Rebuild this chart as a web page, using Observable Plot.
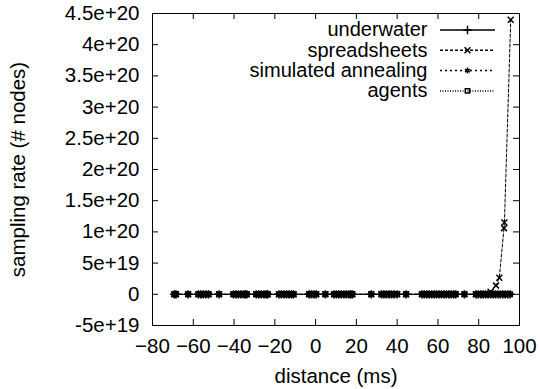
<!DOCTYPE html>
<html><head><meta charset="utf-8">
<script src="https://cdn.jsdelivr.net/npm/d3@7"></script>
<script src="https://cdn.jsdelivr.net/npm/@observablehq/plot@0.6"></script>
<style>body{margin:0;background:#fff}</style>
</head><body><div id="chart"></div>
<script>
const xTicks = [-80, -60, -40, -20, 0, 20, 40, 60, 80, 100];
const yTicks = [-5e19, 0, 5e19, 1e20, 1.5e20, 2e20, 2.5e20, 3e20, 3.5e20, 4e20, 4.5e20];
const yTickLabels = ["-5e+19", "0", "5e+19", "1e+20", "1.5e+20", "2e+20", "2.5e+20", "3e+20", "3.5e+20", "4e+20", "4.5e+20"];
const seriesNames = ["underwater", "spreadsheets", "simulated annealing", "agents"];

// sample positions (ms) for the flat series
const sampleX = [-69.3, -68.5, -62.5, -57.5, -56.3, -55.1, -53.8, -52.5, -47.3,
  -40.3, -39.1, -37.9, -36.6, -35.3, -34.5, -33.8,
  -29.1, -27.9, -26.7, -25.3, -24.2, -23.5,
  -18, -16.8, -15.6, -14.3, -13, -11.8, -10.8,
  -3.2, -2, -0.8, 0.3, 4.8,
  9, 10.2, 11.4, 12.6, 13.9, 15.1, 16.4, 17.2, 18, 27.3,
  32.3, 33.5, 34.7, 36, 37.2, 38.5, 40, 44.4,
  52.1, 53.3, 54.5, 55.7, 56.9, 58.1, 59.3, 60.5, 61.7, 62.9, 64.1, 65.3, 66.5, 67.7, 68.7, 73,
  78.6, 79.8, 81, 82.2, 83.4, 84.6, 85.8, 87, 88.2, 89.4, 90.6, 91.8, 93, 94.2, 95.4];
const underwaterY = [0,0,0,0,0,0,0,0,0, 0,0,0,0,0,0,0, 0,0,0,0,0,0, 0,0,0,0,0,0,0, 0,0,0,0,0,
  0,0,0,0,0,0,0,0,0,0, 0,0,0,0,0,0,0,0, 0,0,0,0,0,0,0,0,0,0,0,0,0,0,0,0,
  0,0,0,0,0,0,0,0,0,0,0,0,0,0,0];
const annealingY = [0,0,0,0,0,0,0,0,0, 0,0,0,0,0,0,0, 0,0,0,0,0,0, 0,0,0,0,0,0,0, 0,0,0,0,0,
  0,0,0,0,0,0,0,0,0,0, 0,0,0,0,0,0,0,0, 0,0,0,0,0,0,0,0,0,0,0,0,0,0,0,0,
  0,0,0,0,0,0,0,0,0,0,0,0,0,0,0];
const agentsY = [0,0,0,0,0,0,0,0,0, 0,0,0,0,0,0,0, 0,0,0,0,0,0, 0,0,0,0,0,0,0, 0,0,0,0,0,
  0,0,0,0,0,0,0,0,0,0, 0,0,0,0,0,0,0,0, 0,0,0,0,0,0,0,0,0,0,0,0,0,0,0,0,
  0,0,0,0,0,0,0,0,0,0,0,0,0,0,0];
const spreadsheetsX = [-69.3, -68.5, -62.5, -57.5, -56.3, -55.1, -53.8, -52.5, -47.3,
  -40.3, -39.1, -37.9, -36.6, -35.3, -34.5, -33.8,
  -29.1, -27.9, -26.7, -25.3, -24.2, -23.5,
  -18, -16.8, -15.6, -14.3, -13, -11.8, -10.8,
  -3.2, -2, -0.8, 0.3, 4.8,
  9, 10.2, 11.4, 12.6, 13.9, 15.1, 16.4, 17.2, 18, 27.3,
  32.3, 33.5, 34.7, 36, 37.2, 38.5, 40, 44.4,
  52.1, 53.3, 54.5, 55.7, 56.9, 58.1, 59.3, 60.5, 61.7, 62.9, 64.1, 65.3, 66.5, 67.7, 68.7, 73,
  78.6, 79.8, 81, 82.2, 83.4, 84.6, 85.8, 88.5, 90.1, 92.4, 92.6, 95.7];
const spreadsheetsY = [0,0,0,0,0,0,0,0,0, 0,0,0,0,0,0,0, 0,0,0,0,0,0, 0,0,0,0,0,0,0, 0,0,0,0,0,
  0,0,0,0,0,0,0,0,0,0, 0,0,0,0,0,0,0,0, 0,0,0,0,0,0,0,0,0,0,0,0,0,0,0,0,
  0,0,0,0,0,0, 0.4e19, 1.4e19, 2.65e19, 1.06e20, 1.15e20, 4.4e20];

const rows = (xs, ys) => xs.map((x, i) => ({x, y: ys[i]}));
const dataSets = [
  rows(sampleX, underwaterY),
  rows(spreadsheetsX, spreadsheetsY),
  rows(sampleX, annealingY),
  rows(sampleX, agentsY)
];
const symbols = ["plus", "times", "asterisk", "square2"];
const dashes = [null, "3,2", "2,3", "1,1.5"];

const W = 540, H = 389, mL = 152, mR = 21, mT = 13, mB = 64;
const iw = W - mL - mR, ih = H - mT - mB;
const tick = 6, rDot = 2.8;
const lineSym = {draw(ctx) { ctx.moveTo(-27.5, 0); ctx.lineTo(27.5, 0); }};

const marks = [
  Plot.frame({stroke: "black"}),
  Plot.tickX(xTicks, {x: d => d, insetTop: ih - tick, stroke: "black"}),
  Plot.tickX(xTicks, {x: d => d, insetBottom: ih - tick, stroke: "black"}),
  Plot.tickY(yTicks, {y: d => d, insetRight: iw - tick, stroke: "black"}),
  Plot.tickY(yTicks, {y: d => d, insetLeft: iw - tick, stroke: "black"}),
  Plot.axisX({ticks: xTicks, tickSize: 0, tickPadding: 13, label: "distance (ms)", labelAnchor: "center", labelOffset: 57, labelArrow: "none"}),
  Plot.axisY({ticks: yTicks, tickFormat: d => yTickLabels[yTicks.indexOf(d)], tickSize: 0, tickPadding: 13,
    label: "sampling rate (# nodes)", labelAnchor: "center", labelOffset: 142, labelArrow: "none"})
];
for (let i = 3; i >= 0; i--) {
  marks.push(Plot.line(dataSets[i], {x: "x", y: "y", stroke: "black", strokeWidth: 1, strokeDasharray: dashes[i]}));
  marks.push(Plot.dot(dataSets[i], {x: "x", y: "y", symbol: symbols[i], r: rDot, stroke: "black", fill: "none", strokeWidth: 1.5}));
}
seriesNames.forEach((name, i) => {
  const dy = 16.5 + i * 20.3;
  marks.push(Plot.text([name], {text: d => d, frameAnchor: "top-right", lineAnchor: "middle", dx: -92, dy, textAnchor: "end", fill: "black", fontSize: 20}));
  marks.push(Plot.dot([name], {frameAnchor: "top-right", dx: -52, dy, symbol: lineSym, r: 3, stroke: "black", fill: "none", strokeDasharray: dashes[i]}));
  marks.push(Plot.dot([name], {frameAnchor: "top-right", dx: -52, dy, symbol: symbols[i], r: rDot, stroke: "black", fill: "none"}));
});

const chart = Plot.plot({
  width: W, height: H,
  marginLeft: mL, marginRight: mR, marginTop: mT, marginBottom: mB,
  x: {domain: [-80, 100]},
  y: {domain: [-5e19, 4.5e20]},
  style: {fontFamily: "'Liberation Sans', Arial, sans-serif", fontSize: "20.5px", background: "white", color: "black"},
  marks
});
document.getElementById("chart").appendChild(chart);
</script>
</body></html>
